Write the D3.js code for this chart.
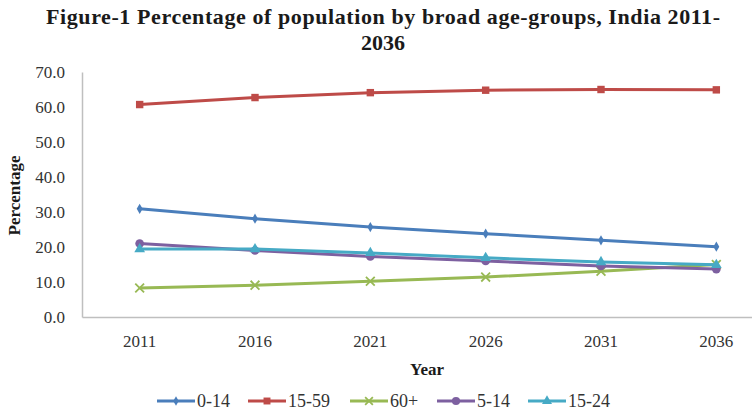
<!DOCTYPE html>
<html>
<head>
<meta charset="utf-8">
<script src="https://cdn.jsdelivr.net/npm/d3@7"></script>
<style>
  body { margin: 0; background: #fff; }
  svg { display: block; font-family: "Liberation Serif", "DejaVu Serif", serif; }
</style>
</head>
<body>
<svg id="chart"></svg>
<script>
// Data
const years = ['2011', '2016', '2021', '2026', '2031', '2036'];
const age0to14 = [30.9, 28.1, 25.7, 23.8, 21.9, 20.1];
const age15to59 = [60.7, 62.7, 64.1, 64.8, 65.0, 64.9];
const age60plus = [8.3, 9.1, 10.2, 11.4, 13.1, 15.0];
const age5to14 = [21.0, 19.0, 17.3, 16.0, 14.6, 13.7];
const age15to24 = [19.4, 19.4, 18.3, 16.9, 15.7, 14.9];
const yTicks = [0, 10, 20, 30, 40, 50, 60, 70];

const series = [
  { name: '0-14', values: age0to14, color: '#4a7ebb', marker: 'diamond' },
  { name: '15-59', values: age15to59, color: '#be4b48', marker: 'square' },
  { name: '60+', values: age60plus, color: '#98b954', marker: 'cross' },
  { name: '5-14', values: age5to14, color: '#7d60a0', marker: 'circle' },
  { name: '15-24', values: age15to24, color: '#46aac5', marker: 'triangle' },
];

const width = 752, height = 410;
const plot = { left: 82, right: 774, top: 72, bottom: 317 };
const serif = '"Liberation Serif", "DejaVu Serif", serif';

const svg = d3.select('#chart')
  .attr('width', width)
  .attr('height', height)
  .attr('viewBox', `0 0 ${width} ${height}`);

const x = d3.scaleBand().domain(years).range([plot.left, plot.right]);
const y = d3.scaleLinear().domain([0, 70]).range([plot.bottom, plot.top]);

// Title
const title = svg.append('text')
  .attr('text-anchor', 'middle')
  .attr('font-weight', 'bold')
  .attr('font-size', '22px')
  .attr('fill', '#1a1a1a');
title.append('tspan').attr('x', 383).attr('y', 24)
  .attr('textLength', 674)
  .text('Figure-1 Percentage of population by broad age-groups, India 2011-');
title.append('tspan').attr('x', 383).attr('y', 50).text('2036');

// Axes (font set after the call, since d3.axis writes its own sans-serif)
const yAxis = svg.append('g')
  .attr('transform', `translate(${plot.left},0)`)
  .call(d3.axisLeft(y).tickValues(yTicks).tickFormat(d => d.toFixed(1)).tickSize(0).tickPadding(17))
  .attr('font-family', serif)
  .attr('font-size', 17);
yAxis.select('.domain').attr('stroke', '#bfbfbf').attr('stroke-width', 1.5);
yAxis.selectAll('text').attr('fill', '#333');

const xAxis = svg.append('g')
  .attr('transform', `translate(0,${plot.bottom})`)
  .call(d3.axisBottom(x).tickSize(0).tickPadding(18))
  .attr('font-family', serif)
  .attr('font-size', 17);
xAxis.select('.domain').attr('stroke', '#bfbfbf').attr('stroke-width', 1.5);
xAxis.selectAll('text').attr('fill', '#333');

// Axis titles
svg.append('text')
  .attr('transform', `translate(20,${(plot.top + plot.bottom) / 2 + 1}) rotate(-90)`)
  .attr('text-anchor', 'middle')
  .attr('font-weight', 'bold')
  .attr('font-size', '17px')
  .attr('fill', '#1a1a1a')
  .text('Percentage');

svg.append('text')
  .attr('x', 427)
  .attr('y', 375)
  .attr('text-anchor', 'middle')
  .attr('font-weight', 'bold')
  .attr('font-size', '17px')
  .attr('fill', '#1a1a1a')
  .text('Year');

// Marker drawing
function drawMarker(g, type, color, size) {
  if (type === 'cross') {
    const s = size * 0.55;
    g.append('path')
      .attr('d', `M${-s},${-s}L${s},${s}M${-s},${s}L${s},${-s}`)
      .attr('stroke', color).attr('stroke-width', 1.8).attr('fill', 'none');
    return;
  }
  const symbols = {
    diamond: [d3.symbolDiamond, 30],
    square: [d3.symbolSquare, 55],
    circle: [d3.symbolCircle, 60],
    triangle: [d3.symbolTriangle, 50],
  };
  const [sym, area] = symbols[type];
  g.append('path')
    .attr('d', d3.symbol(sym, area * size / 8)())
    .attr('fill', color);
}

const line = d3.line()
  .x((d, i) => x(years[i]) + x.bandwidth() / 2)
  .y(d => y(d));

series.forEach(s => {
  svg.append('path')
    .datum(s.values)
    .attr('d', line)
    .attr('fill', 'none')
    .attr('stroke', s.color)
    .attr('stroke-width', 3)
    .attr('stroke-linejoin', 'round');
  s.values.forEach((v, i) => {
    const g = svg.append('g')
      .attr('transform', `translate(${x(years[i]) + x.bandwidth() / 2},${y(v)})`);
    drawMarker(g, s.marker, s.color, 8);
  });
});

// Legend
const legendX = [157, 248, 350, 437, 528];
const legendY = 401;
series.forEach((s, i) => {
  const g = svg.append('g').attr('transform', `translate(${legendX[i]},${legendY})`);
  g.append('line').attr('x1', 0).attr('x2', 38).attr('y1', 0).attr('y2', 0)
    .attr('stroke', s.color).attr('stroke-width', 3);
  const m = g.append('g').attr('transform', 'translate(19,0)');
  drawMarker(m, s.marker, s.color, 7);
  g.append('text').attr('x', 40).attr('y', 6)
    .attr('font-size', '18px').attr('fill', '#333')
    .text(s.name);
});
</script>
</body>
</html>
